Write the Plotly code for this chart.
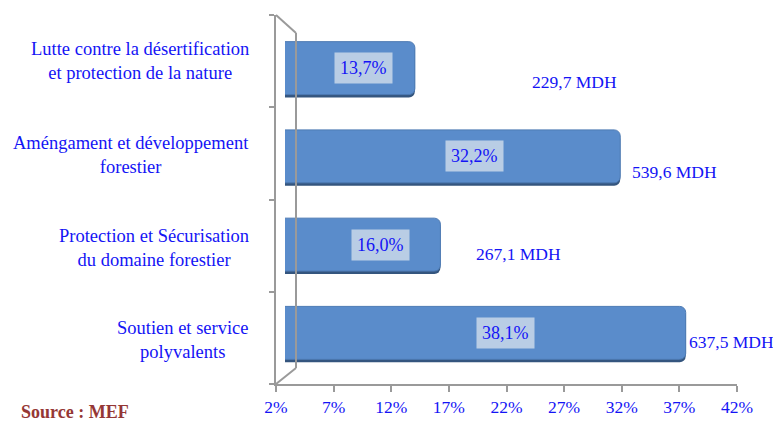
import plotly.graph_objects as go

categories = ["Soutien et service<br>polyvalents",
              "Protection et Sécurisation<br>du domaine forestier",
              "Améngament et développement<br>forestier",
              "Lutte contre la désertification<br>et protection de la nature"]
shares = [38.1, 16.0, 32.2, 13.7]
share_labels = ["38,1%", "16,0%", "32,2%", "13,7%"]
amounts = ["637,5 MDH", "267,1 MDH", "539,6 MDH", "229,7 MDH"]
tick_vals = [2, 7, 12, 17, 22, 27, 32, 37, 42]
tick_text = [f"{v}%" for v in tick_vals]

# page body has an 8px margin: work in reference pixels, shifted by 8
OFF = 8
W, H = 781 - OFF, 422 - OFF
def px(x): return (x - OFF) / W
def py(y): return 1 - (y - OFF) / H

BLUE = "#1414f5"
SERIF = "Liberation Serif, serif"

fig = go.Figure()

# invisible trace for the front axes
fig.add_trace(go.Scatter(x=[2], y=[0], mode="markers", marker=dict(opacity=0),
                         xaxis="x", yaxis="y", hoverinfo="skip", showlegend=False))

ypos = list(range(len(categories)))
# shadow (3D lower edge), drawn first
fig.add_trace(go.Bar(
    x=shares, y=ypos, orientation="h", width=0.6,
    marker=dict(color="#34557e", line=dict(width=0), cornerradius=6),
    xaxis="x2", yaxis="y2", showlegend=False, hoverinfo="skip"))
fig.add_trace(go.Bar(
    x=shares, y=ypos, orientation="h", width=0.6,
    marker=dict(color="#5a8ccb", line=dict(color="#4d7ab3", width=1), cornerradius=6),
    xaxis="x2", yaxis="y3", showlegend=False, hoverinfo="skip"))

# inner labels
label_shift = [20, 18, 22, 14]
for i, (v, t) in enumerate(zip(shares, share_labels)):
    fig.add_annotation(x=(2 + v) / 2, y=i, xref="x2", yref="y3", text=t,
                       showarrow=False, xshift=label_shift[i],
                       font=dict(family=SERIF, size=18, color=BLUE),
                       bgcolor="#b9cde5", borderpad=5)

# amount labels
amt_dx = [1, 34, 10, 115]
amt_dy = [-9, -9, -16, -14]
for i, (v, t) in enumerate(zip(shares, amounts)):
    fig.add_annotation(x=v, y=i, xref="x2", yref="y3", text=t, showarrow=False,
                       xanchor="left", xshift=amt_dx[i], yshift=amt_dy[i],
                       font=dict(family=SERIF, size=17.5, color=BLUE))

# category labels
cat_y = [340, 248, 154.5, 61]
for c, yy in zip(categories, cat_y):
    fig.add_annotation(x=px(251), y=py(yy), xref="paper", yref="paper", text=c,
                       showarrow=False, xanchor="right", yanchor="middle", align="center",
                       font=dict(family=SERIF, size=18.5, color=BLUE))

fig.add_annotation(x=px(19), y=py(412), xref="paper", yref="paper",
                   text="<b>Source : MEF</b>", showarrow=False, xanchor="left",
                   yanchor="middle", font=dict(family=SERIF, size=18, color="#953735"))

GRAY = "#9a9a9a"
# 3D wall lines
for (x0, y0, x1, y1) in [(276, 15, 296, 33), (296, 33, 296, 368), (276, 384, 296, 368)]:
    fig.add_shape(type="line", xref="paper", yref="paper",
                  x0=px(x0), y0=py(y0), x1=px(x1), y1=py(y1),
                  line=dict(color=GRAY, width=2))

fig.update_layout(
    width=W, height=H, margin=dict(l=0, r=0, t=0, b=0, autoexpand=False),
    paper_bgcolor="white", plot_bgcolor="rgba(0,0,0,0)",
    xaxis=dict(domain=[px(276), px(737)], range=[2, 42], tickvals=tick_vals,
               ticktext=tick_text, ticks="outside", ticklen=6, tickcolor=GRAY,
               tickwidth=2, showline=True, linecolor=GRAY, linewidth=2,
               showgrid=False, zeroline=False, anchor="y", automargin=False,
               tickfont=dict(family=SERIF, size=17.5, color=BLUE)),
    yaxis=dict(domain=[py(384), py(15)], range=[0, 4], tickvals=[0, 1, 2, 3, 4],
               showticklabels=False, ticks="outside", ticklen=5, tickcolor=GRAY,
               tickwidth=2, showline=True, linecolor=GRAY, linewidth=2,
               showgrid=False, zeroline=False, anchor="x", automargin=False),
    xaxis2=dict(domain=[px(285), px(729)], range=[2, 42], visible=False, anchor="y2"),
    yaxis2=dict(domain=[py(380), py(27)], range=[-0.5, 3.5], visible=False, anchor="x2"),
    yaxis3=dict(domain=[py(377), py(24)], range=[-0.5, 3.5], visible=False, anchor="x2"),
)

fig.write_html("out.html")
